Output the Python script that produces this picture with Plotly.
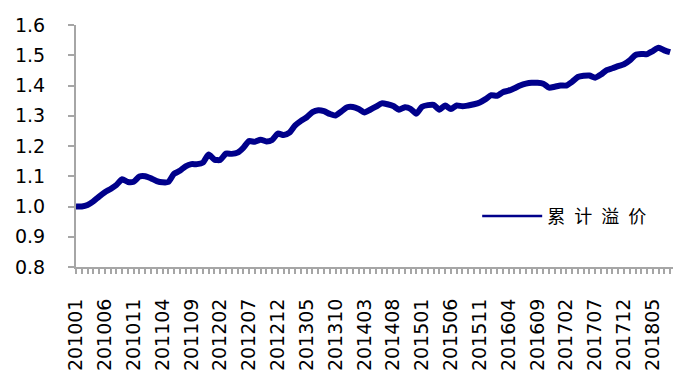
import plotly.graph_objects as go

# monthly labels 201001 .. 201808
months = [f"{y}{m:02d}" for y in range(2010, 2019) for m in range(1, 13)][:104]

values = [
    1.000, 1.000, 1.005, 1.017, 1.033, 1.047, 1.058, 1.071, 1.090, 1.081,
    1.082, 1.099, 1.100, 1.093, 1.084, 1.080, 1.081, 1.108, 1.118, 1.133,
    1.140, 1.140, 1.145, 1.172, 1.155, 1.154, 1.175, 1.174, 1.178, 1.194,
    1.216, 1.214, 1.221, 1.215, 1.220, 1.241, 1.236, 1.244, 1.268, 1.283,
    1.295, 1.312, 1.318, 1.315, 1.306, 1.301, 1.314, 1.328, 1.329, 1.322,
    1.311, 1.320, 1.330, 1.341, 1.338, 1.332, 1.320, 1.328, 1.323, 1.307,
    1.330, 1.335, 1.336, 1.320, 1.334, 1.322, 1.334, 1.331, 1.334, 1.338,
    1.344, 1.355, 1.368, 1.366, 1.378, 1.383, 1.391, 1.400, 1.406, 1.409,
    1.409, 1.406, 1.393, 1.396, 1.400, 1.400, 1.412, 1.428, 1.432, 1.433,
    1.426, 1.436, 1.451, 1.457, 1.464, 1.470, 1.483, 1.501, 1.504, 1.504,
    1.514, 1.525, 1.516, 1.510,
]

series_name = "累\u2002计\u2002溢\u2002价"
y_ticks = [0.8, 0.9, 1.0, 1.1, 1.2, 1.3, 1.4, 1.5, 1.6]

idx = list(range(len(months)))
tick_idx = idx[::5]
tick_text = [months[i] for i in tick_idx]

LINE = "#00008B"
AXIS = "#A6A6A6"

fig = go.Figure()
fig.add_trace(go.Scatter(
    x=idx, y=values, mode="lines", showlegend=False,
    line=dict(color=LINE, width=6, shape="spline", smoothing=0.6),
    hoverinfo="skip",
))
fig.add_trace(go.Scatter(
    x=[None], y=[None], mode="lines", name=series_name,
    line=dict(color=LINE, width=2.5),
))

fig.update_layout(
    width=687, height=384,
    margin=dict(l=76, r=14, t=25, b=117, autoexpand=False),
    paper_bgcolor="white", plot_bgcolor="white",
    font=dict(family="DejaVu Sans", size=19, color="black"),
    legend=dict(
        x=0.672, y=0.21, xanchor="left", yanchor="middle",
        bgcolor="rgba(0,0,0,0)", itemwidth=60,
        font=dict(family="Noto Sans CJK SC", size=18, color="black"),
    ),
    xaxis=dict(
        range=[0, 103.5], showgrid=False, zeroline=False, automargin=False,
        showline=True, linecolor=AXIS, linewidth=2,
        tickmode="array", tickvals=tick_idx, ticktext=tick_text,
        ticks="outside", ticklen=5, tickcolor=AXIS, tickwidth=1.5,
        tickangle=-90, ticklabelstandoff=17,
        minor=dict(dtick=1, ticks="outside", ticklen=5, tickcolor=AXIS, tickwidth=1.5),
        tickfont=dict(family="DejaVu Sans", size=19),
    ),
    yaxis=dict(
        range=[0.8, 1.6], showgrid=False, zeroline=False, automargin=False,
        showline=True, linecolor=AXIS, linewidth=2,
        tickmode="array", tickvals=y_ticks,
        ticktext=[f"{v:.1f}" for v in y_ticks],
        ticks="outside", ticklen=6, tickcolor=AXIS, tickwidth=1.5,
        ticklabelstandoff=19,
        tickfont=dict(family="DejaVu Sans", size=19),
    ),
)

fig.write_html(
    "out.html",
    config={"displayModeBar": False},
    post_script="document.body.style.margin='0';document.body.style.overflow='hidden';",
)
